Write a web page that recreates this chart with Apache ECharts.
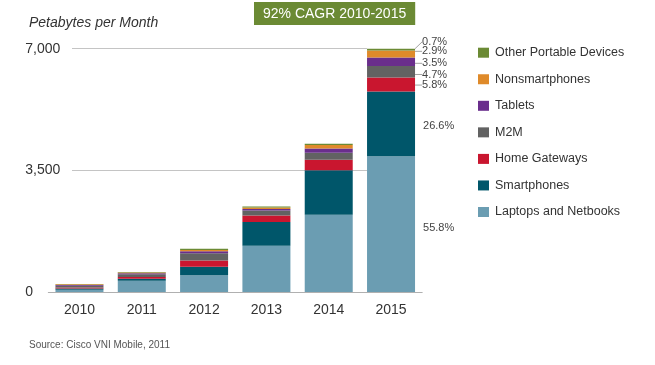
<!DOCTYPE html>
<html>
<head>
<meta charset="utf-8">
<script src="https://cdn.jsdelivr.net/npm/echarts@6/dist/echarts.min.js"></script>
<style>html,body{margin:0;padding:0;background:#fff}#c{width:655px;height:365px}</style>
</head>
<body>
<div id="c"></div>
<script>
const years = ['2010','2011','2012','2013','2014','2015'];
const yTicks = [0, 3500, 7000];
const laptops      = [65, 326, 480, 1334, 2226, 3906];
const smartphones  = [35, 55, 250, 682, 1279, 1862];
const homeGateways = [30, 50, 173, 182, 297, 406];
const m2m          = [50, 80, 210, 144, 202, 329];
const tablets      = [20, 25, 58, 49, 124, 245];
const nonsmart     = [20, 25, 38, 38, 98, 203];
const otherDevices = [10, 15, 38, 29, 38, 49];
const seriesNames = ['Laptops and Netbooks','Smartphones','Home Gateways','M2M','Tablets','Nonsmartphones','Other Portable Devices'];
const share2015 = ['55.8%','26.6%','5.8%','4.7%','3.5%','2.9%','0.7%'];

const colors = ['#6b9db2','#00566a','#c9162f','#626262','#6a2e8c','#df8a2a','#6b8a34'];
const values = [laptops, smartphones, homeGateways, m2m, tablets, nonsmart, otherDevices];
const dyShift = [4, 2, 0.6, 2.8, 1.6, -2.6, -7.6];

const chart = echarts.init(document.getElementById('c'));
const series = values.map((arr, k) => ({
  name: seriesNames[k],
  type: 'bar',
  stack: 'total',
  xAxisIndex: 0, yAxisIndex: 0,
  barWidth: 48,
  itemStyle: { color: colors[k] },
  labelLayout: { dy: dyShift[k] },
  labelLine: k >= 2 ? { show: true, length2: 0, lineStyle: { color: '#8a8a8a', width: 0.8 } } : { show: false },
  data: arr.map((v, i) => i === years.length - 1 ? {
    value: v,
    label: {
      show: true, position: 'right', distance: k >= 2 ? 7 : 8,
      formatter: share2015[k],
      color: '#444', fontSize: 11, fontFamily: 'Liberation Sans, Arial, sans-serif'
    }
  } : v)
}));

chart.setOption({
  animation: false,
  backgroundColor: '#fff',
  title: [
    { text: 'Petabytes per Month', left: 24, top: 11,
      textStyle: { fontStyle: 'italic', fontWeight: 'normal', fontSize: 14, color: '#333', fontFamily: 'Liberation Sans, Arial, sans-serif' } },
    { text: '92% CAGR 2010-2015', left: 254, top: 2, backgroundColor: '#6b8a34', padding: [4, 9, 3, 9],
      textStyle: { fontWeight: 'normal', fontSize: 14, lineHeight: 16, color: '#fff', fontFamily: 'Liberation Sans, Arial, sans-serif' } },
    { text: 'Source: Cisco VNI Mobile, 2011', left: 24, top: 335,
      textStyle: { fontWeight: 'normal', fontSize: 10, color: '#555', fontFamily: 'Liberation Sans, Arial, sans-serif' } }
  ],
  legend: {
    orient: 'vertical', left: 473, top: 40.7,
    icon: 'rect', itemWidth: 11, itemHeight: 10, itemGap: 12.55,
    selectedMode: false,
    data: seriesNames.slice().reverse(),
    textStyle: { fontSize: 12.5, lineHeight: 14, color: '#333', fontFamily: 'Liberation Sans, Arial, sans-serif', padding: [0,0,0,1] }
  },
  grid: [
    { left: 48.3, width: 373.9, top: 48.7, bottom: 73 },
    { left: 72, width: 295, top: 48.7, bottom: 73 }
  ],
  xAxis: [
    { type: 'category', gridIndex: 0, data: years,
      axisLine: { lineStyle: { color: '#b0b0b0', width: 1 } },
      axisTick: { show: false },
      axisLabel: { margin: 11, fontSize: 14, color: '#333', fontFamily: 'Liberation Sans, Arial, sans-serif' } },
    { type: 'value', gridIndex: 1, show: false, min: 0, max: 1 }
  ],
  yAxis: [
    { type: 'value', gridIndex: 0, min: yTicks[0], max: yTicks[yTicks.length - 1], interval: yTicks[1] - yTicks[0],
      splitLine: { show: false }, axisLine: { show: false }, axisTick: { show: false },
      axisLabel: { align: 'left', margin: 23, fontSize: 14, color: '#333', fontFamily: 'Liberation Sans, Arial, sans-serif',
        formatter: v => v.toLocaleString('en-US') } },
    { type: 'value', gridIndex: 1, min: yTicks[0], max: yTicks[yTicks.length - 1], interval: yTicks[1] - yTicks[0],
      axisLabel: { show: false }, axisLine: { show: false }, axisTick: { show: false },
      splitLine: { show: true, lineStyle: { color: '#c4c4c4', width: 1 } } }
  ],
  series: series
});
</script>
</body>
</html>
